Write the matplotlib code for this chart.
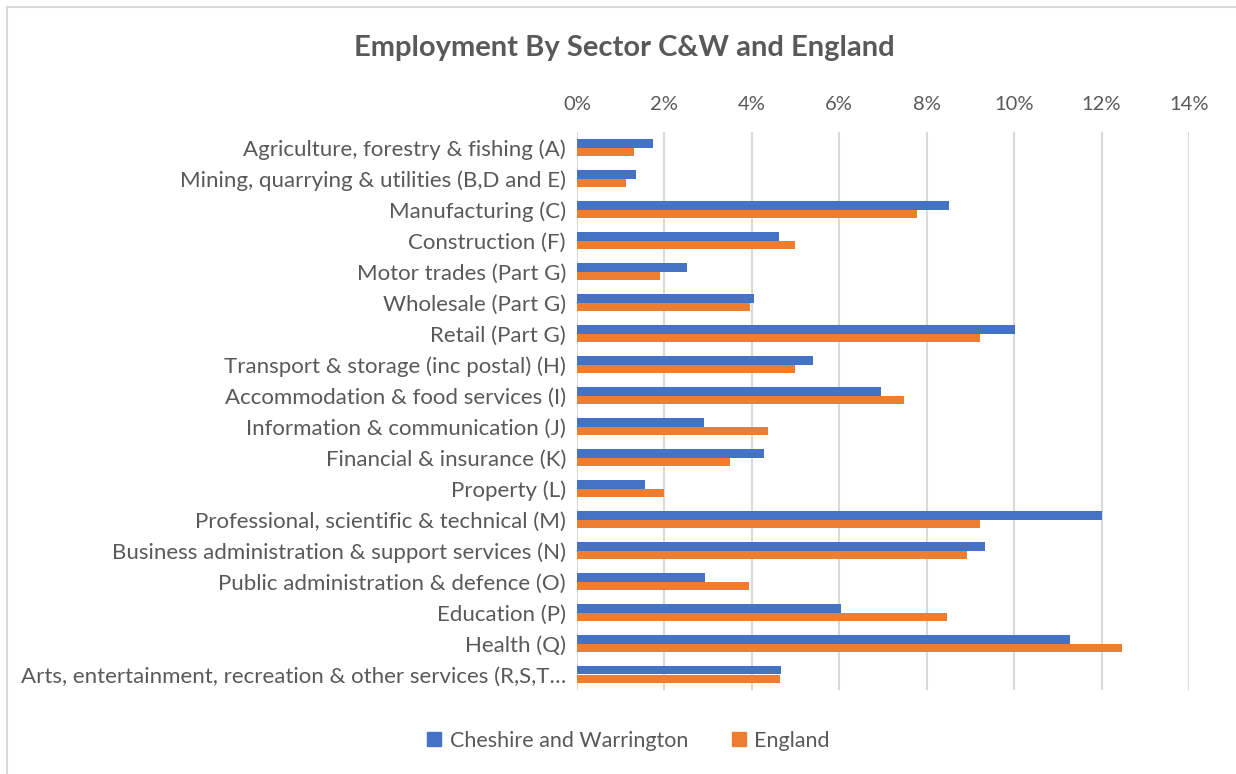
import numpy as np
import matplotlib
matplotlib.use("Agg")
import matplotlib.pyplot as plt
from matplotlib.lines import Line2D
from matplotlib.ticker import FuncFormatter

plt.rcParams["font.family"] = ["Lato", "DejaVu Sans"]

sectors = [
    "Agriculture, forestry & fishing (A)",
    "Mining, quarrying & utilities (B,D and E)",
    "Manufacturing (C)",
    "Construction (F)",
    "Motor trades (Part G)",
    "Wholesale (Part G)",
    "Retail (Part G)",
    "Transport & storage (inc postal) (H)",
    "Accommodation & food services (I)",
    "Information & communication (J)",
    "Financial & insurance (K)",
    "Property (L)",
    "Professional, scientific & technical (M)",
    "Business administration & support services (N)",
    "Public administration & defence (O)",
    "Education (P)",
    "Health (Q)",
    "Arts, entertainment, recreation & other services (R,S,T\u2026",
]
cw = [1.73, 1.36, 8.51, 4.63, 2.51, 4.06, 10.03, 5.41, 6.96, 2.90,
      4.28, 1.55, 12.02, 9.33, 2.92, 6.03, 11.27, 4.66]
england = [1.31, 1.12, 7.78, 4.99, 1.90, 3.95, 9.21, 4.99, 7.49, 4.37,
           3.49, 2.00, 9.22, 8.92, 3.94, 8.47, 12.46, 4.64]
series_names = ["Cheshire and Warrington", "England"]

BLUE = "#4472C4"
ORANGE = "#ED7D31"
GREY = "#595959"
GRID = "#D9D9D9"

W, H = 1236, 774
fig = plt.figure(figsize=(W / 100, H / 100), dpi=100)
ax = fig.add_axes([577 / W, 1 - 690 / H, (1189 - 577) / W, (690 - 132) / H])

y = np.arange(len(sectors))
h = 0.27
ax.barh(y - h / 2, cw, height=h, color=BLUE, zorder=3)
ax.barh(y + h / 2, england, height=h, color=ORANGE, zorder=3)

ax.set_xlim(0, 14)
ax.set_ylim(len(sectors) - 0.5, -0.5)
ax.set_xticks(np.arange(0, 15, 2))
ax.xaxis.set_major_formatter(FuncFormatter(lambda v, p: f"{v:.0f}%"))
ax.xaxis.tick_top()
ax.set_yticks(y)
ax.set_yticklabels(sectors)
ax.tick_params(axis="both", length=0, colors=GREY)
ax.tick_params(axis="x", pad=14, labelsize=14.5)
ax.tick_params(axis="y", pad=8, labelsize=16)
ax.grid(axis="x", color=GRID, linewidth=1.5, zorder=0)
for s in ax.spines.values():
    s.set_visible(False)

fig.text(624 / W, 1 - 48 / H, "Employment By Sector C&W and England",
         ha="center", va="center", fontsize=21, fontweight="bold", color=GREY)

handles = [Line2D([], [], marker="s", linestyle="none", markersize=10, color=c)
           for c in (BLUE, ORANGE)]
fig.legend(handles, series_names, loc="center", bbox_to_anchor=(628 / W, 1 - 741 / H),
           ncol=2, frameon=False, fontsize=15.5, labelcolor=GREY,
           handlelength=0.7, handletextpad=0.35, columnspacing=2.0)

# chart area border (only left and top edges show)
fig.add_artist(Line2D([6.5 / W, 6.5 / W], [0, 1 - 7 / H], color=GRID, linewidth=1.5))
fig.add_artist(Line2D([6.5 / W, 1], [1 - 7 / H, 1 - 7 / H], color=GRID, linewidth=1.5))

fig.savefig("out.png", dpi=100)
